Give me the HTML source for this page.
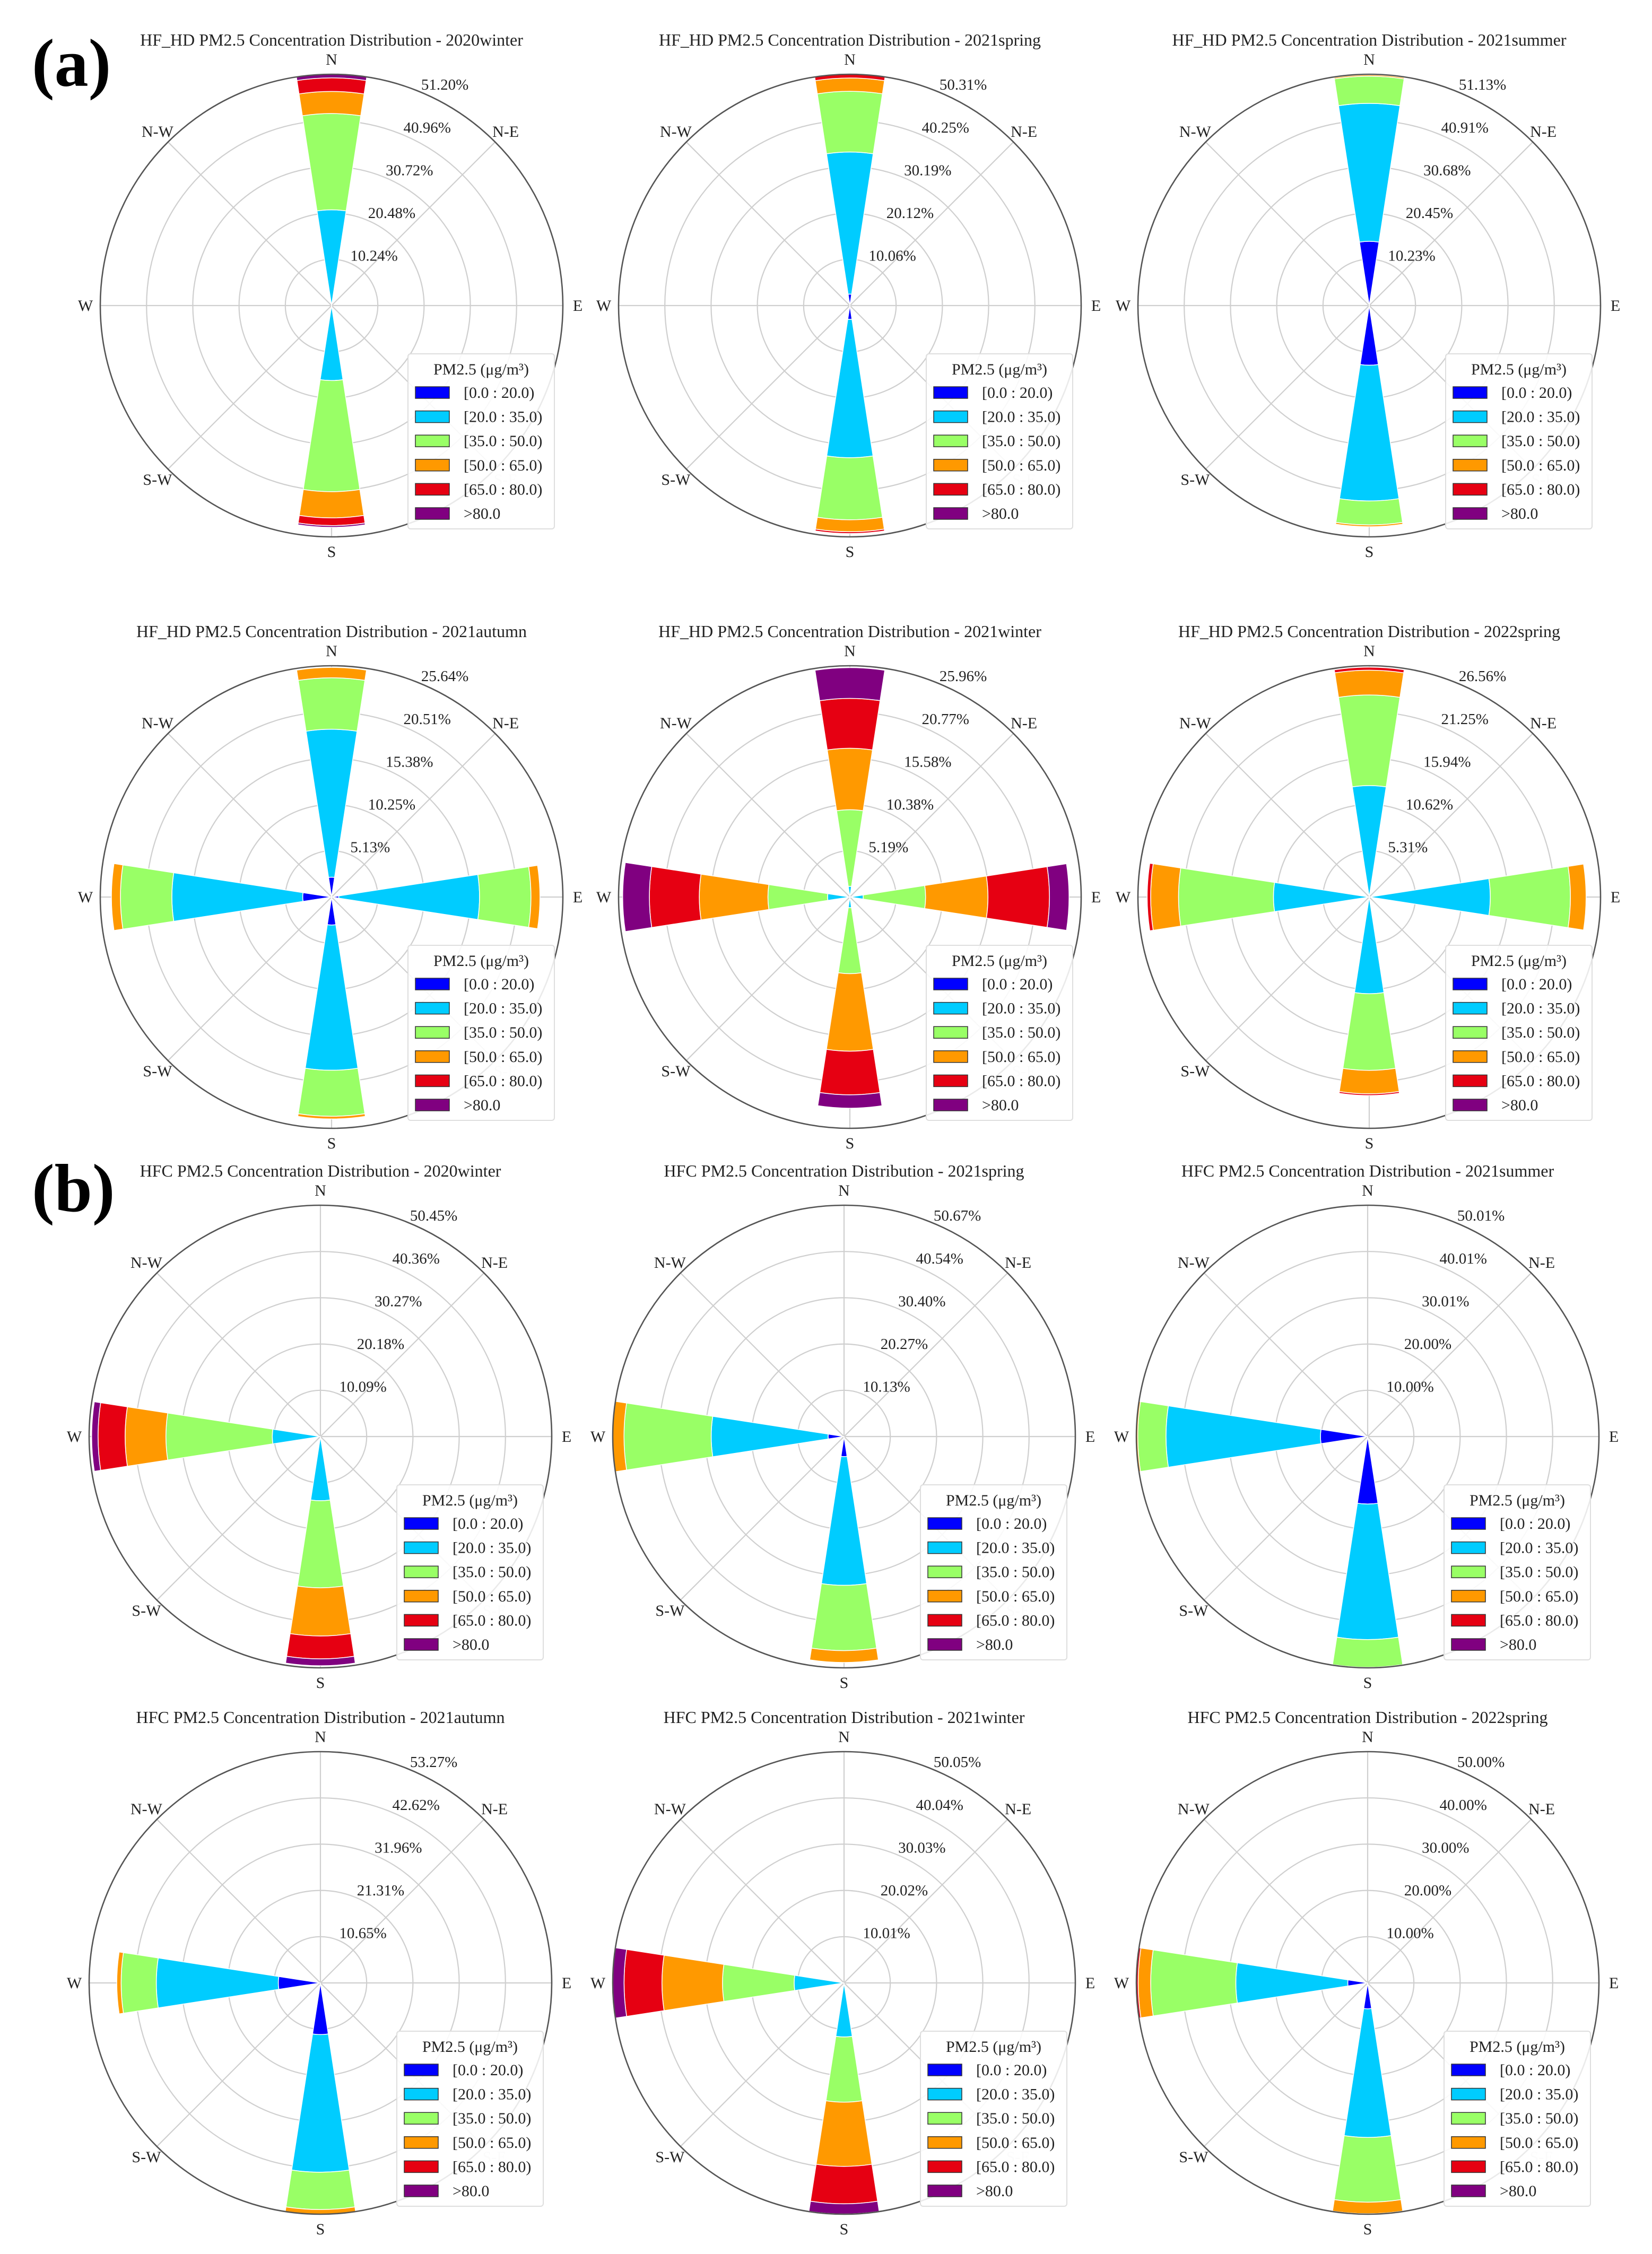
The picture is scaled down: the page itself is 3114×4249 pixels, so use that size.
<!DOCTYPE html>
<html><head><meta charset="utf-8">
<style>
html,body{margin:0;padding:0;background:#fff;}
svg{display:block;font-family:"Liberation Serif","DejaVu Serif",serif;}
</style></head>
<body>
<svg id="chart" width="3114" height="4249" viewBox="0 0 3114 4249" xmlns="http://www.w3.org/2000/svg">
<rect x="0" y="0" width="3114" height="4249" fill="#fff"/>
<text x="60" y="162" font-size="128" font-weight="bold">(a)</text>
<text x="60" y="2283" font-size="128" font-weight="bold">(b)</text>
</svg>
<script>
// ---- data ----
const binLabels = ['[0.0 : 20.0)','[20.0 : 35.0)','[35.0 : 50.0)','[50.0 : 65.0)','[65.0 : 80.0)','>80.0'];
const panelTitles = [
 'HF_HD PM2.5 Concentration Distribution - 2020winter',
 'HF_HD PM2.5 Concentration Distribution - 2021spring',
 'HF_HD PM2.5 Concentration Distribution - 2021summer',
 'HF_HD PM2.5 Concentration Distribution - 2021autumn',
 'HF_HD PM2.5 Concentration Distribution - 2021winter',
 'HF_HD PM2.5 Concentration Distribution - 2022spring',
 'HFC PM2.5 Concentration Distribution - 2020winter',
 'HFC PM2.5 Concentration Distribution - 2021spring',
 'HFC PM2.5 Concentration Distribution - 2021summer',
 'HFC PM2.5 Concentration Distribution - 2021autumn',
 'HFC PM2.5 Concentration Distribution - 2021winter',
 'HFC PM2.5 Concentration Distribution - 2022spring'
];
const panelMax = [51.20, 50.31, 51.134, 25.637, 25.96, 26.56, 50.45, 50.67, 50.01, 53.27, 50.05, 50.00];
const directionNames = ['N','N-E','E','S-E','S','S-W','W','N-W'];
// per-panel, per-direction stacked frequencies (%) for each PM2.5 bin
const p1N = [0,21.2,21.3,4.9,3.0,0.8];   const p1S = [0,16.6,24.6,5.8,1.7,0.4];
const p2N = [2.5,30.9,13.2,2.9,0.8,0];   const p2S = [3.0,30.1,13.5,2.6,0.4,0];
const p3N = [14.2,30.5,6.0,0.3,0,0];     const p3S = [13.2,30.0,5.3,0.4,0,0];
const p4N = [2.2,16.4,5.7,1.15,0,0];     const p4E = [0.8,15.6,5.7,1.0,0,0];
const p4S = [3.1,16.1,5.1,0.3,0,0];      const p4W = [3.2,14.5,5.7,1.0,0,0];
const p5N = [0,1.2,8.6,6.9,5.6,3.45];    const p5E = [0,1.5,7.0,7.0,6.9,2.2];
const p5S = [0,1.2,7.4,8.7,4.9,1.5];     const p5W = [0,2.5,6.7,7.7,5.6,3.0];
const p6N = [0,12.8,10.4,2.85,0.35,0];   const p6E = [0,13.9,9.2,1.8,0,0];
const p6S = [0,11.1,8.8,2.7,0.2,0];      const p6W = [0,11.0,10.9,3.2,0.4,0];
const p7W = [0,10.5,23.2,8.9,5.9,1.4];   const p7S = [0,14.0,19.0,10.5,5.0,1.5];
const p8W = [3.5,25.6,19.1,2.5,0,0];     const p8S = [4.4,28.2,14.3,2.6,0,0];
const p9W = [10.2,33.4,6.1,0.3,0,0];     const p9S = [14.6,29.3,6.0,0.2,0,0];
const p10W = [9.7,28.1,8.1,1.0,0,0];     const p10S = [11.9,31.7,8.6,1.1,0,0];
const p11W = [0,10.8,15.5,13.1,8.2,2.5]; const p11S = [0,11.7,14.1,13.9,8.1,2.2];
const p12W = [4.3,24.2,18.4,2.7,0.5,0];  const p12S = [5.6,27.8,14.0,2.5,0.3,0];
const panelBars = [
 {N:p1N,S:p1S},{N:p2N,S:p2S},{N:p3N,S:p3S},
 {N:p4N,E:p4E,S:p4S,W:p4W},{N:p5N,E:p5E,S:p5S,W:p5W},{N:p6N,E:p6E,S:p6S,W:p6W},
 {W:p7W,S:p7S},{W:p8W,S:p8S},{W:p9W,S:p9S},
 {W:p10W,S:p10S},{W:p11W,S:p11S},{W:p12W,S:p12S}
];

// ---- styles / layout ----
const binColors = ['#0000ff','#00ccff','#99ff66','#ff9900','#e60012','#800080'];
const dirAngle = {N:0,E:90,S:180,W:270};
const R = 436, HW = 8.75;
const colX = [[625,1602,2581],[604,1591,2578]];
const rowY = [576,1691,2708,3738];
const NS = 'http://www.w3.org/2000/svg';
const svg = document.getElementById('chart');

function mk(tag, attrs, parent){
  const e = document.createElementNS(NS, tag);
  for (const k in attrs) e.setAttribute(k, attrs[k]);
  (parent||svg).appendChild(e);
  return e;
}
function pol(cx,cy,r,deg){const t=deg*Math.PI/180;return [cx+r*Math.sin(t), cy-r*Math.cos(t)];}
function rScale(v,max){return v/max*R;}

function wedge(cx,cy,r0,r1,a){
  const p1=pol(cx,cy,r1,a-HW), p2=pol(cx,cy,r1,a+HW);
  if (r0<=0.01) return `M${cx},${cy} L${p1[0]},${p1[1]} A${r1},${r1} 0 0 1 ${p2[0]},${p2[1]} Z`;
  const q1=pol(cx,cy,r0,a+HW), q2=pol(cx,cy,r0,a-HW);
  return `M${p1[0]},${p1[1]} A${r1},${r1} 0 0 1 ${p2[0]},${p2[1]} L${q1[0]},${q1[1]} A${r0},${r0} 0 0 0 ${q2[0]},${q2[1]} Z`;
}

panelTitles.forEach((title, i) => {
  const row = Math.floor(i/3), col = i%3;
  const cx = colX[row<2?0:1][col], cy = rowY[row];
  const max = panelMax[i];
  const g = mk('g', {});
  
  

  const t = mk('text', {x:cx, y:cy-490, 'font-size':32, 'text-anchor':'middle', fill:'#222'}, g);
  t.textContent = title;
  
  

  for (let k=1;k<=4;k++){
    const c = mk('circle', {cx:cx, cy:cy, r:R*k/5, fill:'none', stroke:'#cfcfcf', 'stroke-width':2.2}, g);
    
    
  }
  for (let k=0;k<4;k++){
    const a=pol(cx,cy,R,k*45), b=pol(cx,cy,R,k*45+180);
    const l = mk('line', {x1:a[0],y1:a[1],x2:b[0],y2:b[1],stroke:'#cfcfcf','stroke-width':2.2}, g);
    
    
  }
  directionNames.forEach((d, k) => {
    const p = pol(cx,cy,464,k*45);
    const tx = mk('text', {x:p[0], y:p[1]+10, 'font-size':30, 'text-anchor':'middle', fill: d==='S-E' ? '#d8d8d8' : '#222'}, g);
    tx.textContent = d;
    
    
  });

  const bars = panelBars[i];
  Object.keys(bars).forEach(dir => {
    let acc = 0;
    bars[dir].forEach((v, b) => {
      if (v <= 0) return;
      const r0 = rScale(acc,max), r1 = rScale(acc+v,max);
      acc += v;
      const p = mk('path', {d:wedge(cx,cy,r0,r1,dirAngle[dir]), fill:binColors[b], stroke:'#fff', 'stroke-width':1.5}, g);
      
      
    });
  });

  const oc = mk('circle', {cx:cx, cy:cy, r:R, fill:'none', stroke:'#555', 'stroke-width':2.6}, g);
  
  

  for (let k=1;k<=5;k++){
    const r = R*k/5;
    const s = Math.sin(22.5*Math.PI/180), c = Math.cos(22.5*Math.PI/180);
    const tl = mk('text', {x:cx+r*s+2, y:cy-r*c-4, 'font-size':29, fill:'#222'}, g);
    tl.textContent = (max*k/5).toFixed(2) + '%';
    
    
  }

  const lg = mk('g', {}, g);
  
  
  mk('rect', {x:cx+144, y:cy+91, width:276, height:330, rx:5, fill:'#fff', 'fill-opacity':0.88, stroke:'#dedede', 'stroke-width':2}, lg);
  const lt = mk('text', {x:cx+282, y:cy+130, 'font-size':30, 'text-anchor':'middle', fill:'#222'}, lg);
  lt.textContent = 'PM2.5 (μg/m³)';
  
  
  binLabels.forEach((lab, b) => {
    const y = cy + 164 + b*45.6;
    const sw = mk('rect', {x:cx+158, y:y-11, width:64, height:22, fill:binColors[b], stroke:'#333', 'stroke-width':1.5}, lg);
    
    
    const tx = mk('text', {x:cx+249, y:y+10, 'font-size':30, fill:'#222'}, lg);
    tx.textContent = lab;
    
    
  });
});
</script>
</body></html>
